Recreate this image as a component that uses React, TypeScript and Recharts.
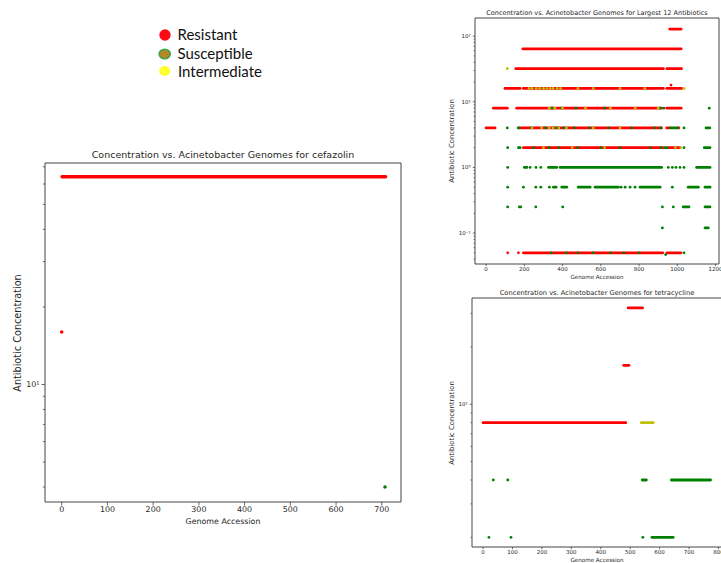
import React from "react";
import { ScatterChart, Scatter, XAxis, YAxis, ReferenceLine, ReferenceArea } from "recharts";

// [concentration, first genome index, last genome index] — a single genome when first === last
type Run = [number, number, number];

const RED = "#ff0000";
const GREEN = "#008000";
const YELLOW = "#bfbf00";
const AXIS = "#444444";
const TEXT = "#262626";
const FONT = "'DejaVu Sans', sans-serif";

// cefazolin
const cefazolinResistant: Run[] = [
	[64, 1, 708],
	[16, 0, 0],
];
const cefazolinSusceptible: Run[] = [[4, 707, 707]];

// largest 12 antibiotics
const largestResistant: Run[] = [
	[128, 960, 1020],
	[64, 192, 1020],
	[32, 155, 927], [32, 945, 1022],
	[18, 967, 967],
	[16, 99, 178], [16, 195, 927], [16, 945, 1022],
	[8, 38, 111], [8, 160, 187], [8, 195, 918], [8, 945, 1020],
	[4, 0, 47], [4, 175, 187], [4, 195, 918], [4, 945, 960], [4, 1003, 1008],
	[2, 195, 927], [2, 951, 1014],
	[0.05, 113, 113], [0.05, 169, 169], [0.05, 195, 924], [0.05, 945, 1019],
];
const largestSusceptible: Run[] = [
	[8, 930, 930], [8, 1167, 1167],
	[4, 111, 111], [4, 168, 172], [4, 965, 1000], [4, 1035, 1035], [4, 1150, 1170],
	[2, 113, 113], [2, 169, 178], [2, 936, 945], [2, 1035, 1035], [2, 1141, 1171],
	[1, 113, 113], [1, 200, 213], [1, 230, 230], [1, 261, 261], [1, 286, 286], [1, 326, 370], [1, 387, 918],
	[1, 953, 953], [1, 974, 974], [1, 993, 993], [1, 1014, 1014], [1, 1035, 1035], [1, 1101, 1171],
	[0.5, 113, 113], [0.5, 195, 195], [0.5, 260, 260], [0.5, 286, 286], [0.5, 331, 331], [0.5, 352, 366],
	[0.5, 396, 422], [0.5, 482, 544], [0.5, 570, 692], [0.5, 706, 706], [0.5, 727, 727], [0.5, 753, 753],
	[0.5, 779, 779], [0.5, 805, 910], [0.5, 974, 974], [0.5, 1057, 1110], [0.5, 1145, 1171],
	[0.25, 113, 113], [0.25, 174, 181], [0.25, 260, 260], [0.25, 401, 401], [0.25, 922, 922], [0.25, 979, 979],
	[0.25, 1031, 1061], [0.25, 1145, 1171],
	[0.12, 922, 922], [0.12, 1145, 1162],
	[0.047, 939, 939], [0.05, 1035, 1035],
	// mixed into the red rows
	[8, 345, 345], [8, 395, 395], [8, 470, 470], [8, 620, 620], [8, 910, 910],
	[4, 235, 235], [4, 310, 310], [4, 355, 355], [4, 375, 375], [4, 405, 405], [4, 460, 460], [4, 540, 540],
	[4, 640, 640], [4, 760, 760], [4, 880, 880], [4, 912, 912],
	[2, 250, 250], [2, 330, 330], [2, 380, 380], [2, 480, 480], [2, 600, 600], [2, 700, 700], [2, 860, 860], [2, 915, 915],
	[0.05, 340, 340], [0.05, 420, 420], [0.05, 480, 480], [0.05, 560, 560], [0.05, 650, 650], [0.05, 720, 720], [0.05, 800, 800],
];
const largestIntermediate: Run[] = [
	[32, 111, 111],
	[16, 225, 225], [16, 240, 240], [16, 262, 262], [16, 280, 280], [16, 300, 300], [16, 318, 318], [16, 335, 335],
	[16, 350, 350], [16, 372, 372], [16, 390, 390], [16, 480, 480], [16, 560, 560], [16, 700, 700], [16, 830, 830],
	[16, 1035, 1035],
	[8, 330, 330], [8, 360, 360], [8, 400, 400], [8, 520, 520], [8, 650, 650], [8, 780, 780], [8, 900, 900],
	[4, 240, 240], [4, 290, 290], [4, 330, 330], [4, 350, 350], [4, 380, 380], [4, 420, 420], [4, 560, 560], [4, 700, 700],
	[2, 300, 300], [2, 450, 450], [2, 620, 620], [2, 990, 990], [2, 1018, 1018],
];

// tetracycline
const tetracyclineResistant: Run[] = [
	[32, 493, 542],
	[16, 478, 496],
	[8, 0, 485],
];
const tetracyclineIntermediate: Run[] = [[8, 538, 578]];
const tetracyclineSusceptible: Run[] = [
	[4, 35, 35], [4, 84, 84], [4, 541, 555], [4, 640, 773],
	[2, 20, 20], [2, 95, 95], [2, 543, 543], [2, 574, 646],
];

const cefazolinXTicks = [0, 100, 200, 300, 400, 500, 600, 700];
const largestXTicks = [0, 200, 400, 600, 800, 1000, 1200];
const tetracyclineXTicks = [0, 100, 200, 300, 400, 500, 600, 700, 800];

const cefazolinYMajors = [10];
const cefazolinYMinors = [4, 5, 6, 7, 8, 9, 20, 30, 40, 50, 60, 70];
const largestYMajors = [0.1, 1, 10, 100];
const largestYMinors = [
	0.04, 0.05, 0.06, 0.07, 0.08, 0.09,
	0.2, 0.3, 0.4, 0.5, 0.6, 0.7, 0.8, 0.9,
	2, 3, 4, 5, 6, 7, 8, 9,
	20, 30, 40, 50, 60, 70, 80, 90,
];
const tetracyclineYMajors = [10];
const tetracyclineYMinors = [2, 3, 4, 5, 6, 7, 8, 9, 20, 30];

const SUP: Record<string, string> = { "-1": "⁻¹", "0": "⁰", "1": "¹", "2": "²" };

interface Layer {
	runs: Run[];
	color: string;
}

interface PanelProps {
	left: number;
	top: number;
	width: number;
	height: number;
	margin: { top: number; right: number; bottom: number; left: number };
	yAxisWidth: number;
	xAxisHeight: number;
	xDomain: [number, number];
	yDomain: [number, number];
	xTicks: number[];
	yMajors: number[];
	yMinors: number[];
	layers: Layer[];
	fontSize: number;
	tickLen: number;
	markSize: number;
}

function makeLogTick(axisX: number, majors: number[], fontSize: number, tickLen: number) {
	return (props: any) => {
		const { y, payload } = props;
		const v = payload.value;
		const major = majors.includes(v);
		const len = major ? tickLen : tickLen * 0.6;
		return (
			<g>
				<line x1={axisX - len} x2={axisX} y1={y} y2={y} stroke={AXIS} strokeWidth={0.8} />
				{major && (
					<text
						x={axisX - tickLen - 2}
						y={y}
						dy="0.35em"
						textAnchor="end"
						fontSize={fontSize}
						fontFamily={FONT}
						fill={TEXT}
					>
						10{SUP[String(Math.round(Math.log10(v)))]}
					</text>
				)}
			</g>
		);
	};
}

function Panel(p: PanelProps) {
	const plotLeft = p.margin.left + p.yAxisWidth;
	const yTicks = [...p.yMinors, ...p.yMajors].sort((a, b) => a - b);
	return (
		<div style={{ position: "absolute", left: p.left, top: p.top }}>
			<ScatterChart width={p.width} height={p.height} margin={p.margin}>
				<XAxis
					type="number"
					dataKey="x"
					domain={p.xDomain}
					allowDataOverflow
					ticks={p.xTicks}
					interval={0}
					height={p.xAxisHeight}
					axisLine={false}
					tickSize={p.tickLen}
					tickMargin={1}
					tickLine={{ stroke: AXIS, strokeWidth: 0.8 }}
					tick={{ fontSize: p.fontSize, fill: TEXT, fontFamily: FONT }}
				/>
				<YAxis
					type="number"
					dataKey="y"
					scale="log"
					domain={p.yDomain}
					allowDataOverflow
					ticks={yTicks}
					interval={0}
					width={p.yAxisWidth}
					axisLine={false}
					tickLine={false}
					tick={makeLogTick(plotLeft, p.yMajors, p.fontSize, p.tickLen)}
				/>
				<ReferenceArea
					x1={p.xDomain[0]}
					x2={p.xDomain[1]}
					y1={p.yDomain[0]}
					y2={p.yDomain[1]}
					fill="none"
					stroke={AXIS}
					strokeWidth={1}
					ifOverflow="visible"
				/>
				{p.layers.flatMap((layer, li) =>
					layer.runs
						.filter((r) => r[1] !== r[2])
						.map((r, i) => (
							<ReferenceLine
								key={`run-${li}-${i}`}
								segment={[
									{ x: r[1], y: r[0] },
									{ x: r[2], y: r[0] },
								]}
								stroke={layer.color}
								strokeWidth={p.markSize}
								strokeLinecap="round"
							/>
						))
				)}
				{p.layers.map((layer, li) => (
					<Scatter
						key={`dots-${li}`}
						data={layer.runs.filter((r) => r[1] === r[2]).map((r) => ({ x: r[1], y: r[0] }))}
						isAnimationActive={false}
						shape={(s: any) => <circle cx={s.cx} cy={s.cy} r={p.markSize / 2} fill={layer.color} />}
					/>
				))}
			</ScatterChart>
		</div>
	);
}

function Label({ x, y, size, text, rotate }: { x: number; y: number; size: number; text: string; rotate?: boolean }) {
	return (
		<div
			style={{
				position: "absolute",
				left: x,
				top: y,
				transform: `translate(-50%, -50%)${rotate ? " rotate(-90deg)" : ""}`,
				fontSize: size,
				fontFamily: FONT,
				color: TEXT,
				whiteSpace: "nowrap",
				lineHeight: 1,
			}}
		>
			{text}
		</div>
	);
}

function StatusLegend() {
	const font = "Lato, 'Open Sans', sans-serif";
	return (
		<svg width={320} height={90} style={{ position: "absolute", left: 0, top: 0 }}>
			<circle cx={165} cy={35} r={5.7} fill="#ff0a14" />
			<ellipse cx={164.7} cy={54} rx={5.6} ry={4.8} fill="#b8862a" stroke="#3aa84a" strokeWidth={1.5} />
			<ellipse cx={164.7} cy={71} rx={5.7} ry={5} fill="#ffff33" />
			<text x={177.5} y={35} dy="0.35em" fontSize={15} fontFamily={font} fill="#111">Resistant</text>
			<text x={177.5} y={54} dy="0.35em" fontSize={15} fontFamily={font} fill="#111">Susceptible</text>
			<text x={178} y={71.5} dy="0.35em" fontSize={15} fontFamily={font} fill="#111">Intermediate</text>
		</svg>
	);
}

export default function App() {
	return (
		<div
			style={{
				position: "absolute",
				left: 0,
				top: 0,
				width: 721,
				height: 563,
				overflow: "hidden",
				background: "#fff",
			}}
		>
			<StatusLegend />

			<Panel
				left={0}
				top={150}
				width={420}
				height={390}
				margin={{ top: 13, right: 19, bottom: 0, left: 0 }}
				yAxisWidth={45}
				xAxisHeight={38}
				xDomain={[-36.5, 742]}
				yDomain={[3.5, 72.4]}
				xTicks={cefazolinXTicks}
				yMajors={cefazolinYMajors}
				yMinors={cefazolinYMinors}
				layers={[
					{ runs: cefazolinResistant, color: RED },
					{ runs: cefazolinSusceptible, color: GREEN },
				]}
				fontSize={7.9}
				tickLen={3.5}
				markSize={3.6}
			/>
			<Label x={223} y={155} size={9.5} text="Concentration vs. Acinetobacter Genomes for cefazolin" />
			<Label x={223} y={522} size={7.9} text="Genome Accession" />
			<Label x={17.5} y={333} size={9.7} text="Antibiotic Concentration" rotate />

			<Panel
				left={420}
				top={0}
				width={301}
				height={290}
				margin={{ top: 18, right: 2, bottom: 0, left: 0 }}
				yAxisWidth={55}
				xAxisHeight={26}
				xDomain={[-58, 1218]}
				yDomain={[0.0338, 189]}
				xTicks={largestXTicks}
				yMajors={largestYMajors}
				yMinors={largestYMinors}
				layers={[
					{ runs: largestResistant, color: RED },
					{ runs: largestSusceptible, color: GREEN },
					{ runs: largestIntermediate, color: YELLOW },
				]}
				fontSize={5.5}
				tickLen={2.2}
				markSize={2.8}
			/>
			<Label x={597} y={13.3} size={6.5} text="Concentration vs. Acinetobacter Genomes for Largest 12 Antibiotics" />
			<Label x={597} y={278.3} size={5.6} text="Genome Accession" />
			<Label x={451.8} y={141} size={6.9} text="Antibiotic Concentration" rotate />

			<Panel
				left={420}
				top={290}
				width={305}
				height={273}
				margin={{ top: 8, right: 3, bottom: 0, left: 0 }}
				yAxisWidth={52}
				xAxisHeight={16}
				xDomain={[-37.5, 812]}
				yDomain={[1.78, 36.1]}
				xTicks={tetracyclineXTicks}
				yMajors={tetracyclineYMajors}
				yMinors={tetracyclineYMinors}
				layers={[
					{ runs: tetracyclineResistant, color: RED },
					{ runs: tetracyclineIntermediate, color: YELLOW },
					{ runs: tetracyclineSusceptible, color: GREEN },
				]}
				fontSize={5.5}
				tickLen={2.2}
				markSize={2.8}
			/>
			<Label x={597} y={293.3} size={6.7} text="Concentration vs. Acinetobacter Genomes for tetracycline" />
			<Label x={597} y={561} size={5.6} text="Genome Accession" />
			<Label x={451.7} y={422.5} size={6.9} text="Antibiotic Concentration" rotate />
		</div>
	);
}
